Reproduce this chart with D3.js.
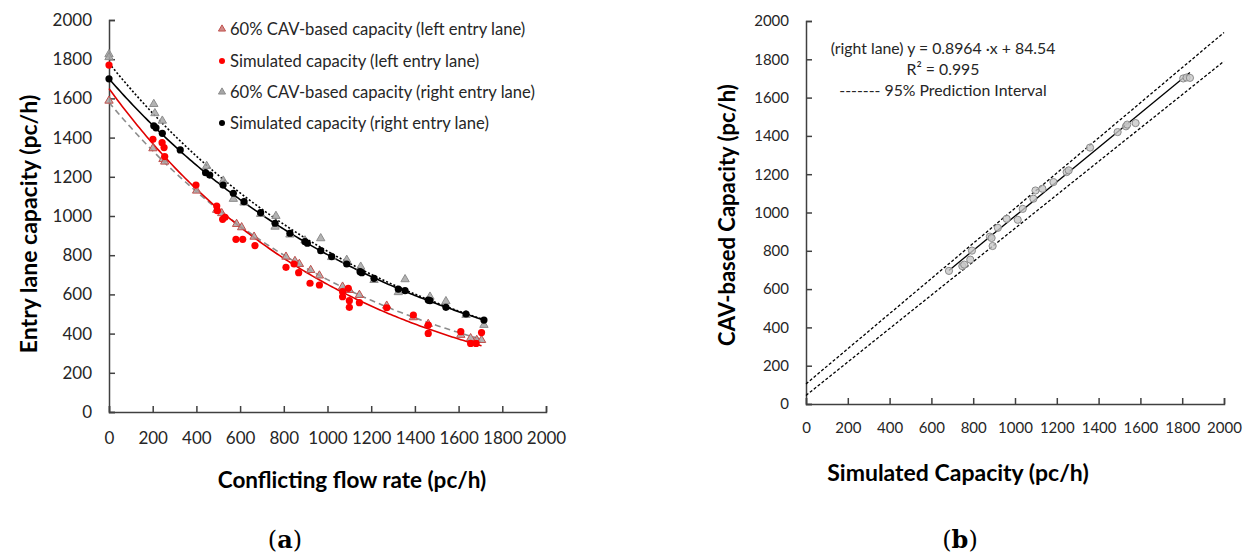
<!DOCTYPE html>
<html>
<head>
<meta charset="utf-8">
<script src="https://cdn.jsdelivr.net/npm/d3@7"></script>
<style>
  body { margin: 0; background: #fff; }
  text { font-family: Lato, "Open Sans", sans-serif; }
  .axis path, .axis line { stroke: #404040; stroke-width: 1.5; }
  .axis text { fill: #262626; font-family: Lato, sans-serif; }
  #axisA text { font-size: 17px; }
  #axisB text { font-size: 15px; }
</style>
</head>
<body>
<svg id="chart" width="1250" height="556"></svg>
<script>
// (a) conflicting flow rate vs entry lane capacity, [flow, capacity]
const leftCav = [[0,1588],[201,1345],[247,1290],[255,1277],[401,1129],[493,1031],[516,1014],[584,959],[607,942],[664,894],[810,792],[851,770],[871,755],[923,724],[963,696],[1069,639],[1100,622],[1146,597],[1271,542],[1393,483],[1461,449],[1610,393],[1655,376],[1683,367],[1705,367]];
const leftSim = [[0,1770],[201,1391],[243,1374],[252,1349],[255,1303],[398,1158],[493,1051],[496,1027],[520,983],[531,993],[581,881],[612,881],[668,849],[810,738],[847,755],[868,711],[920,657],[963,648],[1069,614],[1069,588],[1095,631],[1100,568],[1100,534],[1146,558],[1271,532],[1393,495],[1461,444],[1461,401],[1610,410],[1655,350],[1680,350],[1705,405]];
const rightCav = [[0,1825],[0,1810],[205,1571],[210,1524],[244,1486],[447,1255],[523,1180],[569,1087],[618,1068],[694,1010],[764,1000],[760,945],[828,905],[897,875],[969,886],[1019,790],[1088,776],[1152,741],[1213,673],[1324,611],[1355,677],[1469,588],[1542,565],[1634,495],[1716,444]];
const rightSim = [[0,1700],[205,1460],[215,1450],[244,1422],[326,1337],[442,1221],[461,1209],[522,1158],[569,1116],[618,1073],[694,1017],[760,963],[828,912],[897,869],[908,861],[969,823],[1019,793],[1088,755],[1149,716],[1157,711],[1213,682],[1324,627],[1355,619],[1461,571],[1469,568],[1542,534],[1634,500],[1716,469]];

// exponential capacity models c = A * exp(-B * v)
const modelLeftCav = { A: 1580, B: 0.00085 };
const modelLeftSim = { A: 1650, B: 0.00093 };
const modelRightCav = { A: 1780, B: 0.000775 };
const modelRightSim = { A: 1700, B: 0.00075 };

const legendLabels = ['60% CAV-based capacity (left entry lane)', 'Simulated capacity (left entry lane)',
  '60% CAV-based capacity (right entry lane)', 'Simulated capacity (right entry lane)'];

// (b) simulated vs CAV-based capacity, right lane
const simVsCav = [[684,695],[748,720],[757,728],[786,754],[794,801],[880,874],[888,867],[893,825],[918,920],[960,967],[1013,962],[1037,1019],[1088,1072],[1098,1115],[1131,1124],[1184,1159],[1247,1211],[1257,1220],[1359,1339],[1491,1420],[1531,1450],[1537,1459],[1577,1467],[1805,1700],[1821,1705],[1837,1703]];
const fitSlope = 0.8964, fitIntercept = 84.54;
const piUpper = [[0,105],[2000,1940]];
const piLower = [[0,45],[2000,1790]];

const ticks = d3.range(0, 2001, 200);

const svg = d3.select('#chart');

function drawAxes(id, x, y, yPad, xPad) {
  let g = svg.append('g').attr('id', id);
  g.append('g')
    .attr('class', 'axis')
    .attr('transform', `translate(0, ${y(0)})`)
    .call(d3.axisBottom(x).tickValues(ticks).tickFormat(d3.format('d'))
      .tickSizeInner(-6).tickSizeOuter(-6).tickPadding(xPad));
  g.append('g')
    .attr('class', 'axis')
    .attr('transform', `translate(${x(0)}, 0)`)
    .call(d3.axisLeft(y).tickValues(ticks).tickFormat(d3.format('d'))
      .tickSizeInner(-6).tickSizeOuter(-6).tickPadding(yPad));
}

// ---------- chart (a) ----------
let xa = d3.scaleLinear().domain([0, 2000]).range([109, 546]);
let ya = d3.scaleLinear().domain([0, 2000]).range([412, 20]);
drawAxes('axisA', xa, ya, 17, 20);

let curve = (pts, model, stroke, dash) => {
  let xmax = d3.max(pts, d => d[0]);
  let line = d3.line().x(d => xa(d)).y(d => ya(model.A * Math.exp(-model.B * d)));
  svg.append('path')
    .attr('d', line(d3.range(0, xmax, 10).concat([xmax])))
    .attr('fill', 'none')
    .attr('stroke', stroke)
    .attr('stroke-width', 1.6)
    .attr('stroke-dasharray', dash);
};
curve(leftCav, modelLeftCav, '#8c8c8c', '6,4');
curve(rightCav, modelRightCav, '#000', '2,2');
curve(leftSim, modelLeftSim, '#e00000', null);
curve(rightSim, modelRightSim, '#000', null);

let tri = d3.symbol(d3.symbolTriangle, 30);
let triSmall = d3.symbol(d3.symbolTriangle, 22);

let triangles = (pts, fill, stroke) => {
  svg.append('g').selectAll('path')
    .data(pts)
    .enter().append('path')
    .attr('d', tri)
    .attr('transform', d => `translate(${xa(d[0])}, ${ya(d[1])})`)
    .attr('fill', fill)
    .attr('fill-opacity', 0.85)
    .attr('stroke', stroke)
    .attr('stroke-width', 1);
};
let dots = (pts, fill) => {
  svg.append('g').selectAll('circle')
    .data(pts)
    .enter().append('circle')
    .attr('cx', d => xa(d[0]))
    .attr('cy', d => ya(d[1]))
    .attr('r', 3.6)
    .attr('fill', fill);
};
triangles(leftCav, '#a6a6a6', '#c0504d');
triangles(rightCav, '#a6a6a6', '#8c8c8c');
dots(leftSim, '#ff0000');
dots(rightSim, '#000');

// legend
let legendY = [29, 61, 92, 123];
let legend = svg.append('g');
legend.append('path').attr('d', triSmall).attr('transform', `translate(222, ${legendY[0]})`)
  .attr('fill', '#d08a88').attr('stroke', '#c0504d');
legend.append('circle').attr('cx', 222).attr('cy', legendY[1]).attr('r', 3).attr('fill', '#ff0000');
legend.append('path').attr('d', triSmall).attr('transform', `translate(222, ${legendY[2]})`)
  .attr('fill', '#a6a6a6').attr('stroke', '#8c8c8c');
legend.append('circle').attr('cx', 222).attr('cy', legendY[3]).attr('r', 3).attr('fill', '#000');
legend.selectAll('text')
  .data(legendLabels)
  .enter().append('text')
  .attr('x', 230)
  .attr('y', (d, i) => legendY[i])
  .attr('dy', '0.35em')
  .attr('font-size', 16.6)
  .attr('fill', '#262626')
  .text(d => d);

svg.append('text')
  .attr('transform', 'translate(29, 224) rotate(-90)')
  .attr('text-anchor', 'middle')
  .attr('dy', '0.35em')
  .attr('font-size', 23)
  .attr('font-weight', 'bold')
  .text('Entry lane capacity (pc/h)');
svg.append('text')
  .attr('x', 352)
  .attr('y', 480)
  .attr('text-anchor', 'middle')
  .attr('dy', '0.35em')
  .attr('font-size', 22.5)
  .attr('font-weight', 'bold')
  .text('Conflicting flow rate (pc/h)');

// ---------- chart (b) ----------
let xb = d3.scaleLinear().domain([0, 2000]).range([806, 1224]);
let yb = d3.scaleLinear().domain([0, 2000]).range([404, 21]);
drawAxes('axisB', xb, yb, 17, 18);

let lineB = d3.line().x(d => xb(d[0])).y(d => yb(d[1]));
[piUpper, piLower].forEach(pi => {
  svg.append('path')
    .attr('d', lineB(pi))
    .attr('fill', 'none')
    .attr('stroke', '#000')
    .attr('stroke-width', 1.3)
    .attr('stroke-dasharray', '3,2');
});
let xExt = d3.extent(simVsCav, d => d[0]);
svg.append('path')
  .attr('d', lineB(xExt.map(x => [x, fitSlope * x + fitIntercept])))
  .attr('fill', 'none')
  .attr('stroke', '#000')
  .attr('stroke-width', 1.3);

svg.append('g').selectAll('circle')
  .data(simVsCav)
  .enter().append('circle')
  .attr('cx', d => xb(d[0]))
  .attr('cy', d => yb(d[1]))
  .attr('r', 3.6)
  .attr('fill', '#c8c8c8')
  .attr('fill-opacity', 0.8)
  .attr('stroke', '#8c8c8c')
  .attr('stroke-width', 1);

let notes = [`(right lane) y = ${fitSlope} \u00b7x + ${fitIntercept}`, 'R\u00b2 = 0.995', '------- 95% Prediction Interval'];
svg.append('g').selectAll('text')
  .data(notes)
  .enter().append('text')
  .attr('x', 943)
  .attr('y', (d, i) => 48 + i * 21)
  .attr('dy', '0.35em')
  .attr('text-anchor', 'middle')
  .attr('font-size', 15.8)
  .attr('fill', '#262626')
  .text(d => d);

svg.append('text')
  .attr('transform', 'translate(727, 215) rotate(-90)')
  .attr('text-anchor', 'middle')
  .attr('dy', '0.35em')
  .attr('font-size', 22)
  .attr('font-weight', 'bold')
  .text('CAV-based Capacity (pc/h)');
svg.append('text')
  .attr('x', 958)
  .attr('y', 473)
  .attr('text-anchor', 'middle')
  .attr('dy', '0.35em')
  .attr('font-size', 23)
  .attr('font-weight', 'bold')
  .text('Simulated Capacity (pc/h)');

// panel labels
[['a', 285], ['b', 960]].forEach(([t, cx]) => {
  let lab = svg.append('text')
    .attr('x', cx)
    .attr('y', 540)
    .attr('dy', '0.35em')
    .attr('text-anchor', 'middle')
    .attr('font-size', 24)
    .style('font-family', '"DejaVu Serif", "Liberation Serif", serif');
  lab.append('tspan').text('(');
  lab.append('tspan').attr('font-weight', 'bold').text(t);
  lab.append('tspan').text(')');
});
</script>
</body>
</html>
